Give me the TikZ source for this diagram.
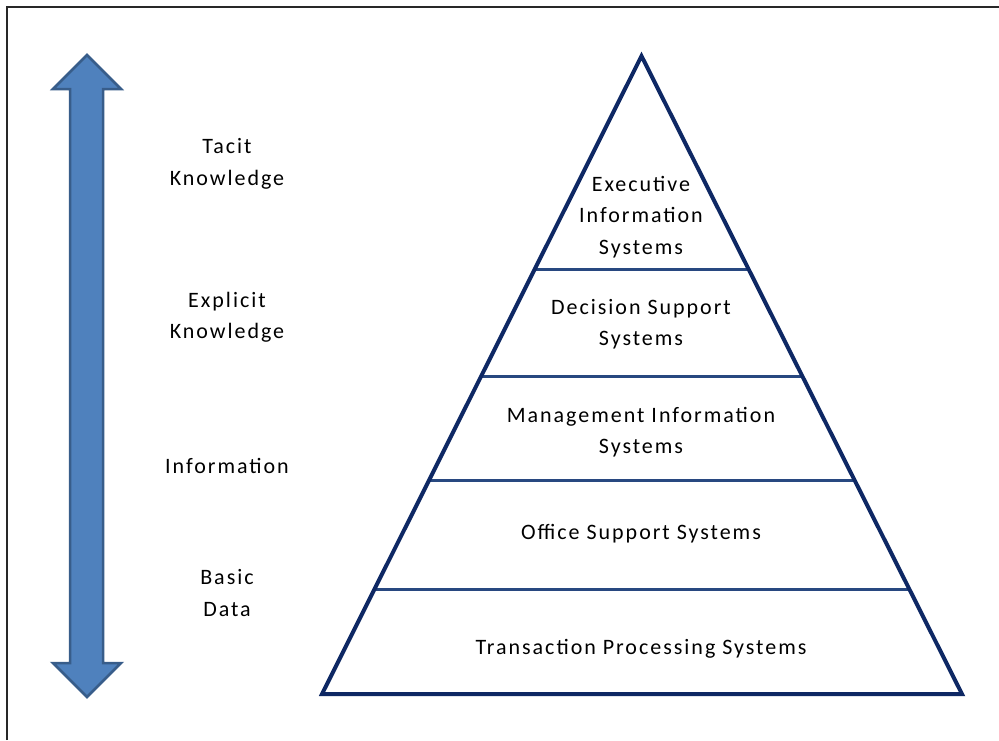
\documentclass[tikz,border=0pt]{standalone}
\usepackage{fontspec}
\setmainfont{Carlito}[LetterSpace=9]
\definecolor{navy}{RGB}{14,40,100}
\definecolor{layerline}{RGB}{40,72,128}
\definecolor{arrowfill}{RGB}{79,129,189}
\definecolor{arrowedge}{RGB}{56,93,138}
\definecolor{framegray}{RGB}{40,40,40}
\begin{document}
\begin{tikzpicture}[x=1pt,y=-1pt,
  lbl/.style={font=\fontsize{22}{31.5}\selectfont, align=center, inner sep=0pt, text=black},
  layer/.style={draw=layerline, line width=3pt},
  pyr/.style={draw=navy, line width=4pt, line join=miter},
  bigarrow/.style={fill=arrowfill, draw=arrowedge, line width=2.5pt, line join=miter}]
\useasboundingbox (0,0) rectangle (999,740);
\fill[white] (0,0) rectangle (999,740);
% frame (top and left only)
\draw[framegray, line width=2pt] (7,740) -- (7,7) -- (999,7);
% double arrow
\draw[bigarrow] (87,55) -- (121,89) -- (103,89) -- (103,663) -- (121,663) -- (87,697)
  -- (53,663) -- (70,663) -- (70,89) -- (53,89) -- cycle;
% pyramid
\coordinate (apex) at (641.5,56);
\coordinate (bl) at (322,694);
\coordinate (br) at (962,694);
\foreach \yy/\nm in {269/a,376/b,480/c,589/d}{
  \pgfmathsetmacro{\dx}{(\yy-56)/638*319.5}
  \coordinate (\nm L) at (641.5-\dx,\yy);
  \coordinate (\nm R) at (641.5+\dx,\yy);
}
\draw[layer] (aL) -- (aR);
\draw[layer] (bL) -- (bR);
\draw[layer] (cL) -- (cR);
\draw[layer] (dL) -- (dR);
\draw[pyr] (apex) -- (br) -- (bl) -- cycle;
% pyramid labels
\node[lbl] (eis) at (641,217) {Executive\\Information\\Systems};
\node[lbl] (dss) at (641,324) {Decision Support\\Systems};
\node[lbl] (mis) at (641,432) {Management Information\\Systems};
\node[lbl] (oss) at (641,534) {Office Support Systems};
\node[lbl] (tps) at (641,649) {Transaction Processing Systems};
% left labels
\node[lbl] (tacit) at (227,164) {Tacit\\Knowledge};
\node[lbl] (explicit) at (227,317) {Explicit\\Knowledge};
\node[lbl] (info) at (227,466) {Information};
\node[lbl] (basic) at (227,593) {Basic\\Data};
\end{tikzpicture}
\end{document}
